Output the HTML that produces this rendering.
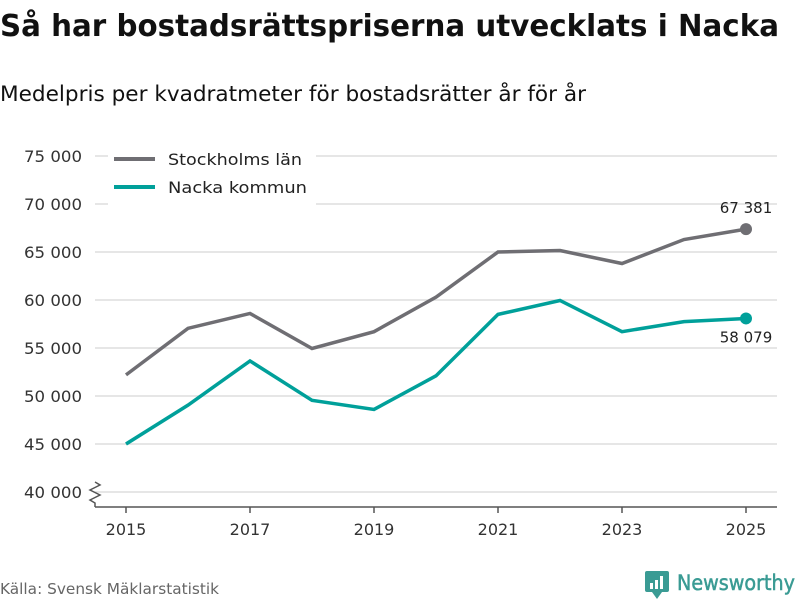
<!DOCTYPE html>
<html><head><meta charset="utf-8"><style>
body{margin:0;width:800px;height:600px;background:#fff;font-family:"DejaVu Sans","Liberation Sans",sans-serif;overflow:hidden}
</style></head><body>
<svg width="800" height="600" id="chart" style="position:absolute;left:0;top:0">
<text x="0" y="36" font-size="30" font-weight="bold" fill="#111" textLength="779" lengthAdjust="spacingAndGlyphs">Så har bostadsrättspriserna utvecklats i Nacka</text>
<text x="0" y="101" font-size="21" fill="#111" textLength="586" lengthAdjust="spacingAndGlyphs">Medelpris per kvadratmeter för bostadsrätter år för år</text>
<g id="grid"></g>
<g id="series"></g>
<rect x="108" y="146" width="208" height="60" fill="#fff"/>
<g><line x1="114" y1="159" x2="155" y2="159" stroke="#6f6e73" stroke-width="4"/><text x="168" y="165" font-size="16" fill="#222" textLength="134" lengthAdjust="spacingAndGlyphs">Stockholms län</text></g>
<g><line x1="114" y1="187" x2="155" y2="187" stroke="#00a09a" stroke-width="4"/><text x="168" y="193" font-size="16" fill="#222" textLength="139" lengthAdjust="spacingAndGlyphs">Nacka kommun</text></g>
<text x="0" y="594" font-size="15" fill="#666" textLength="219" lengthAdjust="spacingAndGlyphs">Källa: Svensk Mäklarstatistik</text>
<g><rect x="645" y="571" width="24" height="21" rx="2" fill="#3a9b94"/><path d="M652 592 L657 599 L662 592Z" fill="#3a9b94"/><rect x="650" y="583" width="3" height="6" fill="#fff"/><rect x="655" y="580" width="3" height="9" fill="#fff"/><rect x="660" y="576" width="3" height="13" fill="#fff"/><text x="677" y="590" font-size="21" fill="#3a9b94" stroke="#3a9b94" stroke-width="0.5" textLength="118" lengthAdjust="spacingAndGlyphs">Newsworthy</text></g>
</svg>
<script>
const years=[2015,2016,2017,2018,2019,2020,2021,2022,2023,2024,2025];
const stockholm=[52200,57050,58600,54950,56700,60300,65000,65150,63800,66300,67381];
const nacka=[45000,49050,53650,49550,48600,52100,58500,59950,56700,57750,58079];
const yTicks=[40000,45000,50000,55000,60000,65000,70000,75000];
const xTicks=[2015,2017,2019,2021,2023,2025];
const NS="http://www.w3.org/2000/svg";
const xs=v=>126+(v-2015)*62, ys=v=>492-(v-40000)*0.0096;
const fmt=v=>String(v).replace(/\B(?=(\d{3})+(?!\d))/g," ");
function mk(t,a,p){const e=document.createElementNS(NS,t);for(const k in a)e.setAttribute(k,a[k]);p.appendChild(e);return e;}
const g=document.getElementById('grid'),s=document.getElementById('series');
yTicks.forEach(v=>{
 const l=mk('line',{x1:95,x2:777,y1:ys(v),y2:ys(v),stroke:'#ddd','stroke-width':1.5},g);
 
 
 const t=mk('text',{x:24,y:ys(v)+6,'font-size':16,fill:'#333',textLength:58,lengthAdjust:'spacingAndGlyphs'},g);t.textContent=fmt(v);
 
 
});
const ax=mk('path',{d:'M95 507 H777 M95 507 V503 L90 500 L100 495 L90 490 L100 485 L95 482',fill:'none',stroke:'#555','stroke-width':1.5},g);


xTicks.forEach(v=>{
 mk('line',{x1:xs(v),x2:xs(v),y1:507,y2:513,stroke:'#555','stroke-width':1.5},g);
 const t=mk('text',{x:xs(v),y:535,'text-anchor':'middle','font-size':16,fill:'#333'},g);t.textContent=v;
 
 
});
function line(data,col,name,labelDy){
 const p=mk('polyline',{points:data.map((v,i)=>xs(years[i])+','+ys(v)).join(' '),fill:'none',stroke:col,'stroke-width':3.5},s);
 
 
 const n=data.length-1;
 const c=mk('circle',{cx:xs(years[n]),cy:ys(data[n]),r:6,fill:col},s);
 
 
 const t=mk('text',{x:xs(years[n]),y:ys(data[n])+labelDy,'text-anchor':'middle','font-size':15,fill:'#222'},s);t.textContent=fmt(data[n]);
 
 
}
line(stockholm,'#6f6e73','stockholm',-16);
line(nacka,'#00a09a','nacka',24);
</script>
</body></html>
